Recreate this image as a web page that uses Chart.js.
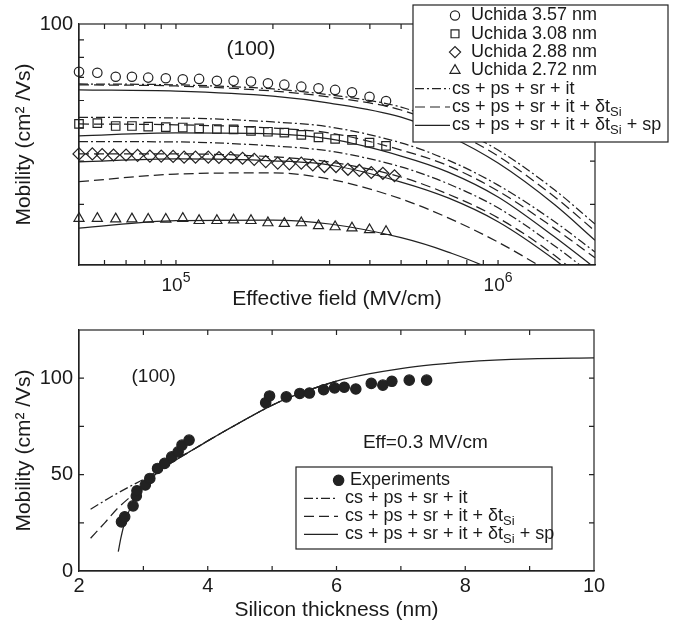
<!DOCTYPE html>
<html lang="en">
  <head>
    <meta charset="UTF-8" />
    <title>Mobility vs effective field and silicon thickness</title>
    <style>
      body { margin: 0; background: #fff; }
      #wrap { position: relative; width: 687px; height: 625px; }
      .panel { position: absolute; left: 0; width: 687px; }
    </style>
    <script src="https://cdn.jsdelivr.net/npm/chart.js"></script>
  </head>
  <body>
    <div id="wrap">
      <div class="panel" style="top: 0; height: 312px"><canvas id="fieldChart"></canvas></div>
      <div class="panel" style="top: 312px; height: 313px"><canvas id="thickChart"></canvas></div>
    </div>

    <script>
      // ---- top panel: mobility vs effective field (Uchida data) ----
      const fieldA = [5.0e4, 5.7e4, 6.5e4, 7.3e4, 8.2e4, 9.3e4, 1.05e5, 1.18e5, 1.34e5, 1.51e5,
        1.71e5, 1.93e5, 2.17e5, 2.45e5, 2.77e5, 3.12e5, 3.52e5, 3.99e5, 4.49e5];
      const mu357 = [72.7, 72.2, 70.3, 70.3, 69.9, 69.6, 69.1, 69.3, 68.4, 68.4,
        68.1, 67.3, 66.7, 65.8, 65.1, 64.4, 63.4, 61.5, 59.8];
      const mu308 = [51.3, 51.6, 50.6, 50.6, 50.4, 50.2, 50.1, 49.8, 49.6, 49.5,
        49.0, 48.7, 48.4, 47.7, 46.9, 46.4, 46.1, 45.3, 44.3];
      const mu272 = [27.3, 27.3, 27.2, 27.2, 27.15, 27.15, 27.3, 26.9, 26.9, 27.0,
        26.9, 26.5, 26.4, 26.5, 26.0, 25.8, 25.6, 25.3, 25.0];
      const fieldB = [5.0e4, 5.5e4, 5.9e4, 6.4e4, 7.0e4, 7.6e4, 8.3e4, 9.0e4, 9.8e4, 1.06e5,
        1.15e5, 1.26e5, 1.36e5, 1.48e5, 1.61e5, 1.75e5, 1.90e5, 2.07e5, 2.25e5, 2.45e5,
        2.66e5, 2.89e5, 3.14e5, 3.42e5, 3.71e5, 4.04e5, 4.39e5, 4.77e5];
      const mu288 = [42.0, 42.0, 41.8, 41.7, 41.7, 41.6, 41.4, 41.4, 41.3, 41.1,
        41.1, 41.1, 41.0, 41.0, 40.8, 40.5, 39.9, 39.5, 39.3, 39.5,
        39.0, 38.6, 38.6, 37.9, 37.6, 37.1, 36.9, 36.3];

      // model curves (it = cs+ps+sr+it, dt = +δtSi, sp = +δtSi+sp)
      const fieldModel = [5e4, 1e5, 2e5, 3e5, 5e5, 7e5, 1e6, 1.5e6, 2e6];
      const it357 = [67.0, 66.6, 64.8, 62.3, 57.4, 51.0, 43.1, 33.0, 26.3];
      const dt357 = [66.6, 66.1, 63.9, 61.4, 56.3, 49.6, 41.4, 31.5, 25.1];
      const sp357 = [64.4, 63.9, 61.8, 59.0, 53.7, 47.4, 39.5, 29.9, 23.6];
      const it308 = [53.6, 53.4, 52.0, 50.3, 45.2, 40.3, 34.1, 26.7, 21.8];
      const dt308 = [51.3, 51.0, 49.9, 48.3, 43.1, 38.8, 32.8, 25.5, 21.0];
      const sp308 = [47.4, 48.3, 48.0, 46.4, 41.4, 37.2, 31.5, 24.1, 19.6];
      const it288 = [45.6, 45.5, 44.3, 42.8, 38.5, 34.4, 29.3, 22.7, 18.5];
      const dt288 = [42.0, 42.0, 41.2, 39.8, 36.0, 32.1, 27.4, 21.3, 16.9];
      const sp288 = [39.8, 40.6, 40.1, 39.0, 34.8, 31.3, 26.7, 20.7, 16.7];
      const dt272 = [34.9, 36.7, 37.0, 35.5, 31.1, 27.4, 23.3, 18.7, 15.8];
      const sp272 = [25.6, 26.9, 27.0, 26.3, 24.0, 21.8, 19.0, 14.8, 12.1];

      const fieldTicks = [5e4, 6e4, 7e4, 8e4, 9e4, 1e5, 2e5, 3e5, 4e5, 5e5, 6e5, 7e5, 8e5, 9e5, 1e6, 2e6];
      const fieldTickLabels = ['', '', '', '', '', '10^5', '', '', '', '', '', '', '', '', '10^6', ''];
      const muLogTicks = [20, 30, 40, 50, 60, 70, 80, 90, 100];
      const muLogTickLabels = ['', '', '', '', '', '', '', '', '100'];

      // ---- bottom panel: mobility vs silicon thickness at Eff = 0.3 MV/cm ----
      const thickExp = [2.66, 2.71, 2.84, 2.89, 2.90, 3.03, 3.10, 3.22, 3.33, 3.44, 3.54, 3.60, 3.71,
        4.90, 4.96, 5.22, 5.43, 5.58, 5.80, 5.97, 6.12, 6.30, 6.54, 6.72, 6.86, 7.13, 7.40];
      const muExp = [25.5, 28.1, 33.8, 38.9, 41.6, 44.6, 48.0, 53.2, 55.8, 59.2, 61.8, 65.3, 67.9,
        87.3, 90.8, 90.3, 92.1, 92.3, 94.0, 95.0, 95.3, 94.4, 97.3, 96.4, 98.4, 99.0, 99.0];

      const thickIt = [2.18, 2.5, 2.8, 3.0, 3.25, 3.5, 3.75, 4.0, 4.5, 5.0, 5.5, 6.0];
      const muIt = [32, 38.5, 44, 47.5, 52.5, 58, 62.5, 67.5, 77, 86, 93, 98.5];
      const thickDt = [2.18, 2.4, 2.6, 2.8, 3.0, 3.25, 3.5, 3.75, 4.0, 4.5, 5.0, 5.5, 6.0];
      const muDt = [17, 25, 32.5, 38.5, 44, 52, 57.5, 62.5, 67.5, 77, 86, 93, 98.5];
      const thickSp = [2.61, 2.65, 2.7, 2.8, 2.9, 3.0, 3.25, 3.5, 3.75, 4.0, 4.5, 5.0,
        5.5, 6.0, 6.5, 7.0, 7.5, 8.0, 9.0, 10.0];
      const muSp = [10, 17, 24, 33, 39.5, 44, 52, 57.5, 62.5, 67.5, 77, 86,
        93, 98.5, 102.2, 105, 107, 108.5, 110, 110.5];

      const thickTicks = [2, 3, 4, 5, 6, 7, 8, 9, 10];
      const thickTickLabels = ['2', '', '4', '', '6', '', '8', '', '10'];
      const muLinTicks = [0, 25, 50, 75, 100, 125];
      const muLinTickLabels = ['0', '', '50', '', '100', ''];

      // legend texts
      const uchidaNames = ['Uchida 3.57 nm', 'Uchida 3.08 nm', 'Uchida 2.88 nm', 'Uchida 2.72 nm'];
      const modelNames = [
        [{ t: 'cs + ps + sr + it' }],
        [{ t: 'cs + ps + sr + it + \u03b4t' }, { t: 'Si', sub: true }],
        [{ t: 'cs + ps + sr + it + \u03b4t' }, { t: 'Si', sub: true }, { t: ' + sp' }],
      ];

      // ---- styling ----
      const FONT = '"Liberation Sans", Arial, Helvetica, sans-serif';
      const INK = '#222';
      const TEXT = '#1a1a1a';
      const DASH_IT = [9, 3, 2, 3];
      const DASH_DT = [10, 5];
      Chart.defaults.font.family = FONT;
      Chart.defaults.color = TEXT;

      function pts(xs, ys) {
        return xs.map((x, i) => ({ x: x, y: ys[i] }));
      }

      function curve(xs, ys, dash) {
        return {
          data: pts(xs, ys),
          showLine: true,
          pointRadius: 0,
          borderColor: INK,
          borderWidth: 1.25,
          borderDash: dash,
          cubicInterpolationMode: 'monotone',
          fill: false,
        };
      }

      function marker(xs, ys, style, r, filled) {
        return {
          data: pts(xs, ys),
          showLine: false,
          pointStyle: style,
          pointRadius: r,
          pointBorderColor: INK,
          pointBackgroundColor: filled ? INK : 'rgba(0,0,0,0)',
          pointBorderWidth: 1.2,
          clip: false,
        };
      }

      // write a label made of normal, subscript and superscript parts
      function drawRich(ctx, parts, x, y, size, align) {
        ctx.textBaseline = 'middle';
        ctx.textAlign = 'left';
        ctx.fillStyle = TEXT;
        const small = Math.round(size * 0.72);
        if (align === 'center') {
          let w = 0;
          parts.forEach((p) => {
            ctx.font = (p.sub || p.sup ? small : size) + 'px ' + FONT;
            w += ctx.measureText(p.t).width;
          });
          x -= w / 2;
        }
        parts.forEach((p) => {
          ctx.font = (p.sub || p.sup ? small : size) + 'px ' + FONT;
          const dy = p.sub ? size * 0.3 : p.sup ? -size * 0.4 : 0;
          ctx.fillText(p.t, x, y + dy);
          x += ctx.measureText(p.t).width;
        });
      }

      // box frame, inward ticks, power labels, notes and the custom legend
      function panelDecor(cfg) {
        return {
          id: 'panelDecor',
          afterDatasetsDraw(chart) {
            const { ctx, chartArea: a } = chart;
            const xs = chart.scales.x;
            const ys = chart.scales.y;
            ctx.save();
            ctx.strokeStyle = INK;
            ctx.lineWidth = 1.2;
            ctx.setLineDash([]);
            ctx.strokeRect(a.left, a.top, a.right - a.left, a.bottom - a.top);
            ctx.beginPath();
            xs.ticks.forEach((t) => {
              const px = xs.getPixelForValue(t.value);
              if (px <= a.left + 1 || px >= a.right - 1) return;
              ctx.moveTo(px, a.bottom);
              ctx.lineTo(px, a.bottom - cfg.tick);
              ctx.moveTo(px, a.top);
              ctx.lineTo(px, a.top + cfg.tick);
            });
            ys.ticks.forEach((t) => {
              const py = ys.getPixelForValue(t.value);
              if (py <= a.top + 1 || py >= a.bottom - 1) return;
              ctx.moveTo(a.left, py);
              ctx.lineTo(a.left + cfg.tick, py);
              ctx.moveTo(a.right, py);
              ctx.lineTo(a.right - cfg.tick, py);
            });
            ctx.stroke();

            // x labels written as powers of ten
            if (cfg.powerLabels) {
              cfg.powerLabels.values.forEach((v, i) => {
                const lab = cfg.powerLabels.labels[i];
                if (!lab) return;
                const [base, exp] = lab.split('^');
                drawRich(ctx, [{ t: base }, { t: exp, sup: true }], xs.getPixelForValue(v), a.bottom + 21, 19, 'center');
              });
            }

            // notes placed in data coordinates
            ctx.fillStyle = TEXT;
            ctx.textAlign = 'center';
            ctx.textBaseline = 'middle';
            cfg.notes.forEach((n) => {
              ctx.font = n.size + 'px ' + FONT;
              ctx.fillText(n.text, xs.getPixelForValue(n.x), ys.getPixelForValue(n.y));
            });

            // legend
            const L = cfg.legend;
            const bx = a.right + L.dx;
            const by = a.top + L.dy;
            ctx.fillStyle = '#fff';
            ctx.fillRect(bx, by, L.w, L.h);
            ctx.strokeStyle = INK;
            ctx.lineWidth = 1.2;
            ctx.strokeRect(bx, by, L.w, L.h);
            L.rows.forEach((row, i) => {
              const cy = by + L.first + i * L.step;
              ctx.strokeStyle = INK;
              ctx.lineWidth = 1.2;
              if (row.dash) {
                ctx.setLineDash(row.dash);
                ctx.beginPath();
                ctx.moveTo(bx + L.lineFrom, cy);
                ctx.lineTo(bx + L.lineTo, cy);
                ctx.stroke();
                ctx.setLineDash([]);
                drawRich(ctx, row.label, bx + L.lineText, cy, L.size);
              } else {
                ctx.fillStyle = row.filled ? INK : 'rgba(0,0,0,0)';
                Chart.helpers.drawPoint(ctx, { pointStyle: row.mark, radius: row.r, borderWidth: 1.2, rotation: 0 }, bx + L.markX, cy);
                drawRich(ctx, row.label, bx + L.markText, cy, L.size);
              }
            });
            ctx.restore();
          },
        };
      }

      function fixedTicks(values) {
        return (scale) => {
          scale.ticks = values.map((v) => ({ value: v }));
        };
      }

      // ---- top chart ----
      new Chart(document.getElementById('fieldChart'), {
        type: 'scatter',
        data: {
          datasets: [
            marker(fieldA, mu357, 'circle', 4.7),
            marker(fieldA, mu308, 'rect', 6.0),
            marker(fieldB, mu288, 'rectRot', 6),
            marker(fieldA, mu272, 'triangle', 5.8),
            curve(fieldModel, it357, DASH_IT),
            curve(fieldModel, dt357, DASH_DT),
            curve(fieldModel, sp357, []),
            curve(fieldModel, it308, DASH_IT),
            curve(fieldModel, dt308, DASH_DT),
            curve(fieldModel, sp308, []),
            curve(fieldModel, it288, DASH_IT),
            curve(fieldModel, dt288, DASH_DT),
            curve(fieldModel, sp288, []),
            curve(fieldModel, dt272, DASH_DT),
            curve(fieldModel, sp272, []),
          ],
        },
        options: {
          responsive: true,
          maintainAspectRatio: false,
          animation: false,
          layout: { padding: { top: 24, right: 92, left: 0, bottom: 0 } },
          plugins: { legend: { display: false }, tooltip: { enabled: false } },
          scales: {
            x: {
              type: 'logarithmic',
              min: 5e4,
              max: 2e6,
              grid: { display: false, drawTicks: false },
              border: { color: INK, width: 1.2 },
              afterBuildTicks: fixedTicks(fieldTicks),
              afterFit: (s) => { s.height = 47; },
              ticks: { autoSkip: false, maxRotation: 0, callback: () => '' },
              title: { display: true, text: 'Effective field (MV/cm)', font: { size: 21 }, padding: 0 },
            },
            y: {
              type: 'logarithmic',
              min: 20,
              max: 100,
              grid: { display: false, drawTicks: false },
              border: { color: INK, width: 1.2 },
              afterBuildTicks: fixedTicks(muLogTicks),
              afterFit: (s) => { s.width = 79; },
              ticks: {
                autoSkip: false,
                padding: 6,
                font: { size: 20 },
                callback: (v, i) => muLogTickLabels[i],
              },
              title: { display: true, text: 'Mobility (cm\u00b2 /Vs)', font: { size: 21 }, padding: { top: 12, bottom: 0 } },
            },
          },
        },
        plugins: [
          panelDecor({
            tick: 5,
            powerLabels: { values: fieldTicks, labels: fieldTickLabels },
            notes: [{ text: '(100)', x: 1.71e5, y: 84.6, size: 21 }],
            legend: {
              dx: -182, dy: -19, w: 255, h: 137, first: 10.5, step: 18.3, size: 18,
              markX: 42, markText: 58, lineFrom: 2, lineTo: 37, lineText: 39,
              rows: [
                { mark: 'circle', r: 4.6, label: [{ t: uchidaNames[0] }] },
                { mark: 'rect', r: 5.6, label: [{ t: uchidaNames[1] }] },
                { mark: 'rectRot', r: 5.6, label: [{ t: uchidaNames[2] }] },
                { mark: 'triangle', r: 5.8, label: [{ t: uchidaNames[3] }] },
                { dash: DASH_IT, label: modelNames[0] },
                { dash: DASH_DT, label: modelNames[1] },
                { dash: [], label: modelNames[2] },
              ],
            },
          }),
        ],
      });

      // ---- bottom chart ----
      new Chart(document.getElementById('thickChart'), {
        type: 'scatter',
        data: {
          datasets: [
            marker(thickExp, muExp, 'circle', 5.2, true),
            curve(thickIt, muIt, DASH_IT),
            curve(thickDt, muDt, DASH_DT),
            curve(thickSp, muSp, []),
          ],
        },
        options: {
          responsive: true,
          maintainAspectRatio: false,
          animation: false,
          layout: { padding: { top: 18, right: 93, left: 0, bottom: 0 } },
          plugins: { legend: { display: false }, tooltip: { enabled: false } },
          scales: {
            x: {
              type: 'linear',
              min: 2,
              max: 10,
              grid: { display: false, drawTicks: false },
              border: { color: INK, width: 1.2 },
              afterBuildTicks: fixedTicks(thickTicks),
              afterFit: (s) => { s.height = 54; },
              ticks: {
                autoSkip: false,
                maxRotation: 0,
                padding: 3,
                font: { size: 20 },
                callback: (v, i) => thickTickLabels[i],
              },
              title: { display: true, text: 'Silicon thickness (nm)', font: { size: 21 }, padding: { top: 0, bottom: 2 } },
            },
            y: {
              type: 'linear',
              min: 0,
              max: 125,
              grid: { display: false, drawTicks: false },
              border: { color: INK, width: 1.2 },
              afterBuildTicks: fixedTicks(muLinTicks),
              afterFit: (s) => { s.width = 79; },
              ticks: {
                autoSkip: false,
                padding: 6,
                font: { size: 20 },
                callback: (v, i) => muLinTickLabels[i],
              },
              title: { display: true, text: 'Mobility (cm\u00b2 /Vs)', font: { size: 21 }, padding: { top: 12, bottom: 0 } },
            },
          },
        },
        plugins: [
          panelDecor({
            tick: 5,
            notes: [
              { text: '(100)', x: 3.16, y: 100.5, size: 19 },
              { text: 'Eff=0.3 MV/cm', x: 7.38, y: 66.3, size: 19 },
            ],
            legend: {
              dx: -298, dy: 137, w: 256, h: 82, first: 13.3, step: 18, size: 18,
              markX: 42.6, markText: 54, lineFrom: 8, lineTo: 42, lineText: 49,
              rows: [
                { mark: 'circle', r: 5.2, filled: true, label: [{ t: 'Experiments' }] },
                { dash: DASH_IT, label: modelNames[0] },
                { dash: DASH_DT, label: modelNames[1] },
                { dash: [], label: modelNames[2] },
              ],
            },
          }),
        ],
      });
    </script>
  </body>
</html>
